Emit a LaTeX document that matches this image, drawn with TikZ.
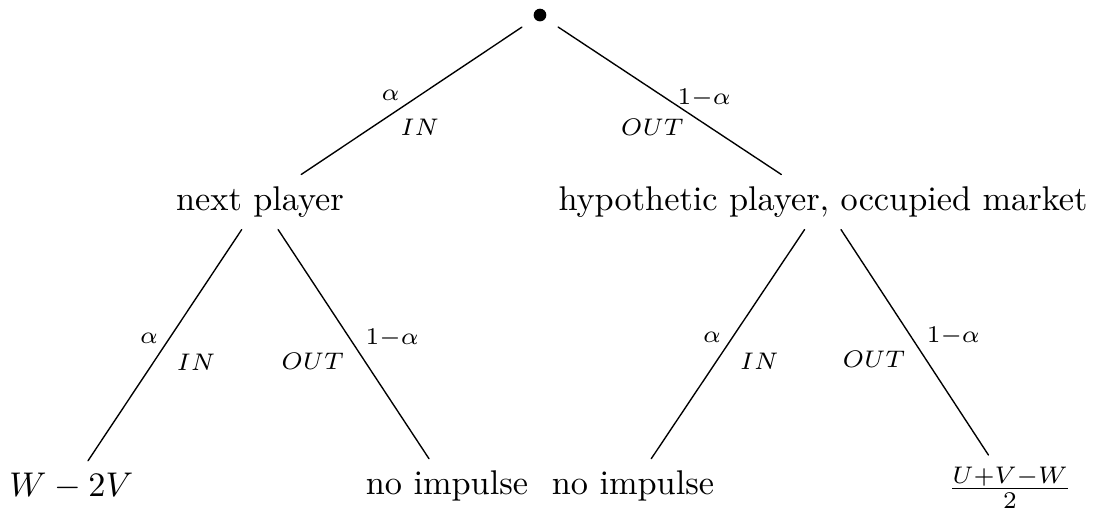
\documentclass[tikz,border=0pt]{standalone}

\begin{document}
\begin{tikzpicture}[line cap=round,line join=round,
  lbl/.style={font=\scriptsize}]
  \useasboundingbox (0,0) rectangle (11.21,-5.215);
  % game tree
  \node[circle,fill,inner sep=0pt,minimum size=3.7pt,outer sep=4.5pt] (root) at (5.533,-0.154) {};
  \node (next) at (2.664,-2.070) {next player};
  \node (hyp) at (8.433,-2.070) {hypothetic player, occupied market};
  \node (wv) at (0.730,-4.980) {$W-2V$};
  \node (noimpl) at (4.580,-4.980) {no impulse};
  \node (noimpr) at (6.486,-4.980) {no impulse};
  \node (payoff) at (10.349,-5.000) {$\frac{U+V-W}{2}$};
  % first move
  \draw (root) -- node[lbl,above left,yshift=-3.5pt]{$\alpha$}
    node[lbl,below right,xshift=-6.7pt,yshift=-1.7pt]{$IN$} (next);
  \draw (root) -- node[lbl,above right,xshift=-1.2pt,yshift=-5.5pt]{$1{-}\alpha$}
    node[lbl,below left,xshift=7.6pt,yshift=-1.7pt]{$OUT$} (hyp);
  % second move
  \draw (next) -- node[lbl,above left,xshift=1.5pt,yshift=-3pt]{$\alpha$}
    node[lbl,below right,yshift=1pt]{$IN$} (wv);
  \draw (next) -- node[lbl,above right,yshift=-4.4pt]{$1{-}\alpha$}
    node[lbl,below left,xshift=0.8pt,yshift=1pt]{$OUT$} (noimpl);
  \draw (hyp) -- node[lbl,above left,xshift=1.5pt,yshift=-3pt]{$\alpha$}
    node[lbl,below right,yshift=1pt]{$IN$} (noimpr);
  \draw (hyp) -- node[lbl,above right,yshift=-4.4pt]{$1{-}\alpha$}
    node[lbl,below left,xshift=0.8pt,yshift=1pt]{$OUT$} (payoff);
\end{tikzpicture}
\end{document}
